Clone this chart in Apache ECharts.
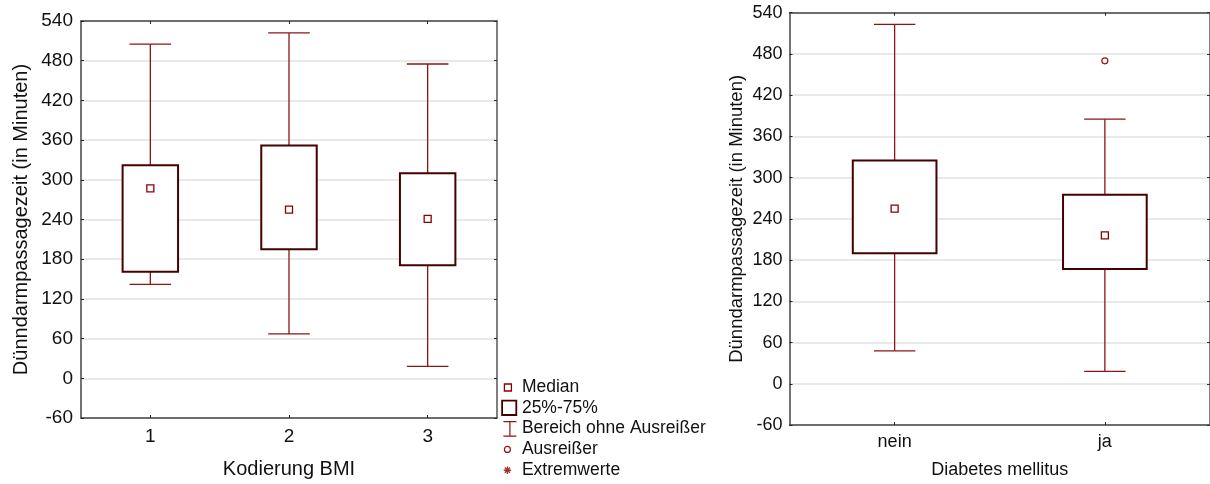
<!DOCTYPE html>
<html>
<head>
<meta charset="utf-8">
<script src="https://cdn.jsdelivr.net/npm/echarts@6/dist/echarts.min.js"></script>
<style>html,body{margin:0;padding:0;background:#fff}#c{width:1210px;height:484px}</style>
</head>
<body>
<div id="c"></div>
<script>
// ---- Data: Kodierung BMI ----
const bmiCategories = ['1', '2', '3'];
const bmiWhiskerLow = [142, 67, 18];
const bmiQ1 = [161, 195, 171];
const bmiMedian = [287, 255, 241];
const bmiQ3 = [322, 352, 310];
const bmiWhiskerHigh = [505, 522, 475];
const bmiOutliers = [];
// ---- Data: Diabetes mellitus ----
const dmCategories = ['nein', 'ja'];
const dmWhiskerLow = [48, 18];
const dmQ1 = [190, 167];
const dmMedian = [255, 216];
const dmQ3 = [325, 275];
const dmWhiskerHigh = [523, 385];
const dmOutliers = [['ja', 470]];
// ---- Axis ticks ----
const yMin = -60, yMax = 540, yStep = 60;

const FONT = "'Liberation Sans', Arial, sans-serif";
const TXT = '#111';
const BOX = '#450000';
const WHISK = '#8e1414';
const MED = '#8b0000';

function boxRender(frac) {
  return function (params, api) {
    const x = api.value(0);
    const pHi = api.coord([x, api.value(2)]);
    const pLo = api.coord([x, api.value(1)]);
    const bw = api.size([1, 0])[0] * frac;
    return {
      type: 'rect',
      shape: { x: pHi[0] - bw / 2, y: pHi[1], width: bw, height: pLo[1] - pHi[1] },
      style: { fill: '#fff', stroke: BOX, lineWidth: 2 }
    };
  };
}
function whiskerRender(frac) {
  return function (params, api) {
    const x = api.value(0);
    const low = api.coord([x, api.value(1)]);
    const q1 = api.coord([x, api.value(2)]);
    const q3 = api.coord([x, api.value(3)]);
    const high = api.coord([x, api.value(4)]);
    const cw = api.size([1, 0])[0] * frac;
    const st = { stroke: WHISK, lineWidth: 1.3 };
    return {
      type: 'group',
      children: [
        { type: 'line', shape: { x1: high[0], y1: high[1], x2: q3[0], y2: q3[1] }, style: st },
        { type: 'line', shape: { x1: low[0], y1: low[1], x2: q1[0], y2: q1[1] }, style: st },
        { type: 'line', shape: { x1: high[0] - cw / 2, y1: high[1], x2: high[0] + cw / 2, y2: high[1] }, style: st },
        { type: 'line', shape: { x1: low[0] - cw / 2, y1: low[1], x2: low[0] + cw / 2, y2: low[1] }, style: st }
      ]
    };
  };
}

function xAxes(gridIndex, cats, name, fs, nfs, gap, margin) {
  return [
    {
      type: 'category', gridIndex: gridIndex, data: cats, position: 'bottom',
      axisLine: { show: true, onZero: false, lineStyle: { color: '#444', width: 1.5 } },
      axisTick: { show: true, inside: true, length: 3, alignWithLabel: true, lineStyle: { color: '#222' } },
      axisLabel: { fontSize: fs, color: TXT, fontFamily: FONT, margin: margin },
      splitLine: { show: false },
      name: name, nameLocation: 'middle', nameGap: gap,
      nameTextStyle: { fontSize: nfs, color: TXT, fontFamily: FONT }
    },
    {
      type: 'category', gridIndex: gridIndex, data: cats, position: 'top',
      axisLine: { show: true, onZero: false, lineStyle: { color: '#444', width: 1.5 } },
      axisTick: { show: true, inside: true, length: 3, alignWithLabel: true, lineStyle: { color: '#222' } },
      axisLabel: { show: false }, splitLine: { show: false }
    }
  ];
}
function yAxes(gridIndex, name, fs, nfs, gap, margin) {
  return [
    {
      type: 'value', gridIndex: gridIndex, min: yMin, max: yMax, interval: yStep, position: 'left',
      axisLine: { show: true, onZero: false, lineStyle: { color: '#444', width: 1.5 } },
      axisTick: { show: true, inside: true, length: 3, lineStyle: { color: '#222' } },
      axisLabel: { fontSize: fs, color: TXT, fontFamily: FONT, margin: margin },
      splitLine: { show: true, lineStyle: { color: '#e2e2e2', width: 1.5 } },
      name: name, nameLocation: 'middle', nameGap: gap,
      nameTextStyle: { fontSize: nfs, color: TXT, fontFamily: FONT }
    },
    {
      type: 'value', gridIndex: gridIndex, min: yMin, max: yMax, interval: yStep, position: 'right',
      axisLine: { show: true, onZero: false, lineStyle: { color: '#555', width: 1.5 } },
      axisTick: { show: true, inside: true, length: 3, lineStyle: { color: '#333' } },
      axisLabel: { show: false }, splitLine: { show: false }
    }
  ];
}

const BB = 'M0 0 M16 16 ';
const option = {
  animation: false,
  backgroundColor: '#fff',
  grid: [
    { left: 81, top: 21, width: 416, height: 400 },
    { left: 789.5, top: 12.7, width: 423, height: 415.3 }
  ],
  xAxis: [
    ...xAxes(0, bmiCategories, 'Kodierung BMI', 19, 20, 41, 9),
    ...xAxes(1, dmCategories, 'Diabetes mellitus', 18, 18, 36, 8)
  ],
  yAxis: [
    ...yAxes(0, 'Dünndarmpassagezeit (in Minuten)', 19, 20, 50, 8),
    ...yAxes(1, 'Dünndarmpassagezeit (in Minuten)', 18, 18.5, 43, 7)
  ],
  legend: {
    orient: 'vertical', left: 500, top: 378, padding: 0,
    itemWidth: 16, itemHeight: 16, itemGap: 2.8,
    selectedMode: false,
    textStyle: { fontSize: 17.5, color: TXT, fontFamily: FONT },
    data: [
      { name: 'Median', icon: 'path://' + BB + 'M3.5 5 H10.5 V12 H3.5 Z',
        itemStyle: { color: '#fff', borderColor: MED, borderWidth: 1.3 } },
      { name: '25%-75%', icon: 'path://' + BB + 'M1.2 0.8 H15.4 V15.2 H1.2 Z',
        itemStyle: { color: '#fff', borderColor: BOX, borderWidth: 1.8 } },
      { name: 'Bereich ohne Ausreißer', icon: 'path://' + BB + 'M2.5 1 H15.5 M9 1 V15.5 M2.5 15.5 H15.5',
        itemStyle: { color: 'transparent', borderColor: WHISK, borderWidth: 1.2 } },
      { name: 'Ausreißer', icon: 'path://' + BB + 'M9.5 8 A3 3 0 1 1 3.5 8 A3 3 0 1 1 9.5 8 Z',
        itemStyle: { color: '#fff', borderColor: '#a01010', borderWidth: 1.2 } },
      { name: 'Extremwerte', icon: 'path://' + BB + 'M2.8 8 H10.2 M6.5 4.3 V11.7 M3.9 5.4 L9.1 10.6 M9.1 5.4 L3.9 10.6',
        itemStyle: { color: 'transparent', borderColor: '#8b0000', borderWidth: 1.4 } }
    ]
  },
  series: [
    // ---- left chart ----
    { name: 'Bereich ohne Ausreißer', type: 'custom', xAxisIndex: 0, yAxisIndex: 0,
      renderItem: whiskerRender(0.3), encode: { x: 0, y: [1, 2, 3, 4] }, z: 2,
      data: bmiCategories.map((c, i) => [i, bmiWhiskerLow[i], bmiQ1[i], bmiQ3[i], bmiWhiskerHigh[i]]) },
    { name: '25%-75%', type: 'custom', xAxisIndex: 0, yAxisIndex: 0,
      renderItem: boxRender(0.4), encode: { x: 0, y: [1, 2] }, z: 3,
      data: bmiCategories.map((c, i) => [i, bmiQ1[i], bmiQ3[i]]) },
    { name: 'Median', type: 'scatter', xAxisIndex: 0, yAxisIndex: 0, z: 4,
      symbol: 'rect', symbolSize: 7,
      itemStyle: { color: '#fff', borderColor: MED, borderWidth: 1.3, opacity: 1 },
      data: bmiCategories.map((c, i) => [c, bmiMedian[i]]) },
    { name: 'Ausreißer', type: 'scatter', xAxisIndex: 0, yAxisIndex: 0, z: 4,
      symbol: 'circle', symbolSize: 6,
      itemStyle: { color: '#fff', borderColor: '#a01010', borderWidth: 1.2, opacity: 1 },
      data: bmiOutliers },
    { name: 'Extremwerte', type: 'scatter', xAxisIndex: 0, yAxisIndex: 0, z: 4,
      itemStyle: { color: '#8b0000' }, data: [] },
    // ---- right chart ----
    { name: 'Bereich ohne Ausreißer', type: 'custom', xAxisIndex: 2, yAxisIndex: 2,
      renderItem: whiskerRender(0.197), encode: { x: 0, y: [1, 2, 3, 4] }, z: 2,
      data: dmCategories.map((c, i) => [i, dmWhiskerLow[i], dmQ1[i], dmQ3[i], dmWhiskerHigh[i]]) },
    { name: '25%-75%', type: 'custom', xAxisIndex: 2, yAxisIndex: 2,
      renderItem: boxRender(0.398), encode: { x: 0, y: [1, 2] }, z: 3,
      data: dmCategories.map((c, i) => [i, dmQ1[i], dmQ3[i]]) },
    { name: 'Median', type: 'scatter', xAxisIndex: 2, yAxisIndex: 2, z: 4,
      symbol: 'rect', symbolSize: 7,
      itemStyle: { color: '#fff', borderColor: MED, borderWidth: 1.3, opacity: 1 },
      data: dmCategories.map((c, i) => [c, dmMedian[i]]) },
    { name: 'Ausreißer', type: 'scatter', xAxisIndex: 2, yAxisIndex: 2, z: 4,
      symbol: 'circle', symbolSize: 6,
      itemStyle: { color: '#fff', borderColor: '#a01010', borderWidth: 1.2, opacity: 1 },
      data: dmOutliers }
  ]
};

const chart = echarts.init(document.getElementById('c'), null, { renderer: 'canvas' });
chart.setOption(option);
</script>
</body>
</html>
